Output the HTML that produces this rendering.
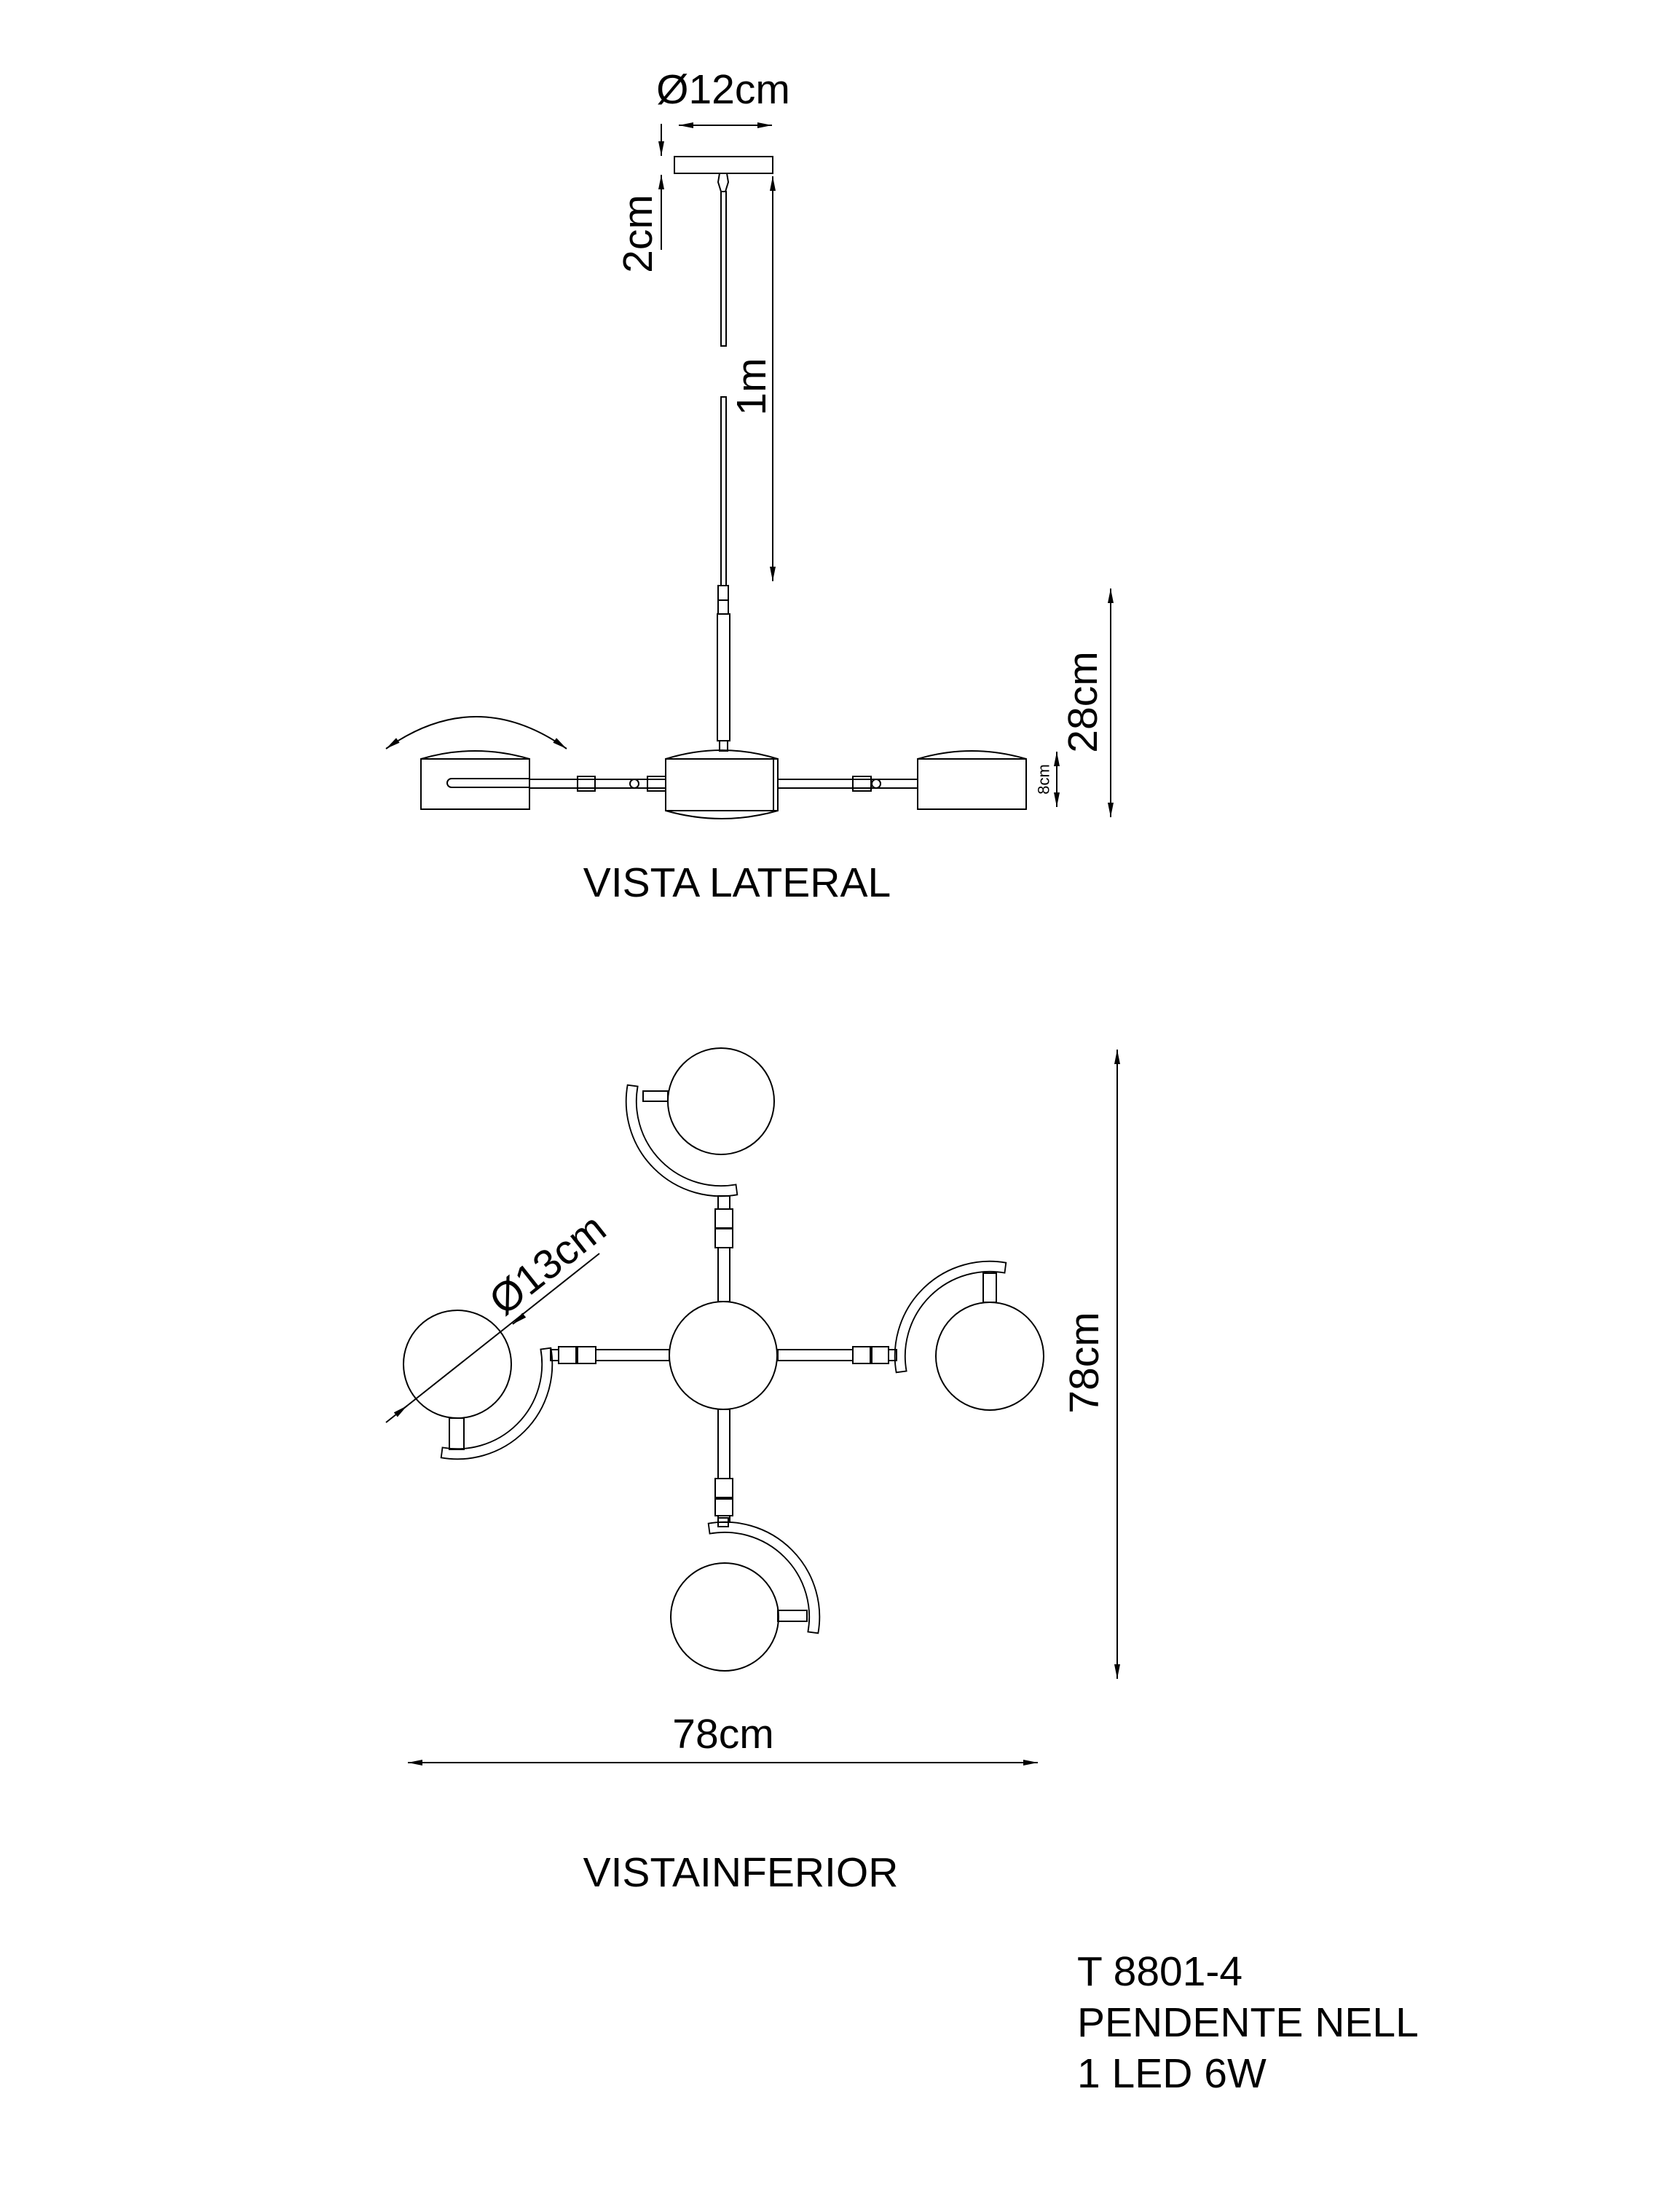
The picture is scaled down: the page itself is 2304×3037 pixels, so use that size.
<!DOCTYPE html>
<html><head><meta charset="utf-8"><style>
html,body{margin:0;padding:0;background:#fff}
svg{display:block}
text{font-family:"Liberation Sans",Arial,sans-serif;fill:#000}
</style></head><body>
<svg width="2304" height="3037" viewBox="0 0 2304 3037" xmlns="http://www.w3.org/2000/svg">
<defs>
<marker id="a" viewBox="0 0 20 8" refX="20" refY="4" markerWidth="20" markerHeight="8" markerUnits="userSpaceOnUse" orient="auto-start-reverse"><path d="M0,0 L20,4 L0,8 Z" fill="#000"/></marker>
</defs>
<g fill="none" stroke="#000" stroke-width="2">
<line x1="932" y1="172" x2="1060" y2="172" marker-start="url(#a)" marker-end="url(#a)"/>
<rect x="926" y="215" width="135" height="23"/>
<line x1="908" y1="170" x2="908" y2="214" marker-end="url(#a)"/>
<line x1="908" y1="343" x2="908" y2="240" marker-end="url(#a)"/>
<path d="M988,238 L998,238 L1000,250 L996,263 L990,263 L986,250 Z"/>
<rect x="990" y="263" width="7" height="212"/>
<rect x="990" y="545" width="7" height="259"/>
<rect x="986" y="804" width="14" height="39"/>
<line x1="986" y1="824" x2="1000" y2="824"/>
<rect x="985" y="843" width="17" height="174"/>
<rect x="988" y="1017" width="11" height="14"/>
<line x1="1061" y1="242" x2="1061" y2="798" marker-start="url(#a)" marker-end="url(#a)"/>
<rect x="914" y="1042" width="154" height="71"/>
<line x1="1062" y1="1042" x2="1062" y2="1113"/>
<path d="M914,1042 Q991,1018 1068,1042"/>
<path d="M914,1113 Q991,1135 1068,1113"/>
<rect x="578" y="1042" width="149" height="69"/>
<path d="M578,1042 Q652,1020 727,1042"/>
<path d="M727,1069 L620,1069 A6,6 0 0 0 620,1081 L727,1081"/>
<rect x="727" y="1070" width="187" height="12"/>
<rect x="793" y="1066" width="24" height="20"/>
<circle cx="871" cy="1076" r="6"/>
<rect x="889" y="1066" width="25" height="20"/>
<rect x="1068" y="1070" width="192" height="12"/>
<rect x="1171" y="1066" width="25" height="20"/>
<circle cx="1203" cy="1076" r="6"/>
<rect x="1260" y="1042" width="149" height="69"/>
<path d="M1260,1042 Q1334,1020 1409,1042"/>
<path d="M530,1028 Q654,940 778,1028" marker-start="url(#a)" marker-end="url(#a)"/>
<line x1="1451" y1="1032" x2="1451" y2="1108" marker-start="url(#a)" marker-end="url(#a)"/>
<line x1="1525" y1="808" x2="1525" y2="1122" marker-start="url(#a)" marker-end="url(#a)"/>

<circle cx="993" cy="1861" r="74"/>
<rect x="756" y="1853" width="163" height="15"/>
<rect x="767" y="1849" width="24" height="23" fill="#fff"/>
<rect x="793" y="1849" width="25" height="23" fill="#fff"/>
<rect x="1068" y="1853" width="163" height="15"/>
<rect x="1171" y="1849" width="24" height="23" fill="#fff"/>
<rect x="1197" y="1849" width="23" height="23" fill="#fff"/>
<rect x="986" y="1642" width="16" height="145"/>
<rect x="982" y="1660" width="24" height="26" fill="#fff"/>
<rect x="982" y="1687" width="24" height="26" fill="#fff"/>
<rect x="986" y="1935" width="16" height="155"/>
<rect x="982" y="2030" width="24" height="26" fill="#fff"/>
<rect x="982" y="2058" width="24" height="23" fill="#fff"/>
<g transform="translate(0,-5)">
<circle cx="990" cy="1517" r="73"/>
<path transform="translate(990,1517) scale(0.93) translate(-990,-1517)" d="M852,1493 A140,140 0 0 0 1014,1655 L1012,1640 A125,125 0 0 1 867,1495 Z"/>
<rect x="883" y="1503" width="34" height="14"/>
</g>
<g transform="translate(-2,-102)">
<circle cx="997" cy="2322" r="74"/>
<path transform="translate(997,2322) scale(0.93) translate(-997,-2322)" d="M973,2184 A140,140 0 0 1 1135,2346 L1120,2344 A125,125 0 0 0 975,2199 Z"/>
<rect x="988" y="2186" width="14" height="12"/>
<rect x="1070" y="2313" width="40" height="15"/>
</g>
<g transform="translate(0,-52)">
<circle cx="628" cy="1925" r="74"/>
<path transform="translate(628,1925) scale(0.93) translate(-628,-1925)" d="M766,1901 A140,140 0 0 1 604,2063 L606,2048 A125,125 0 0 0 751,1903 Z"/>
<rect x="617" y="1999" width="20" height="43"/>
<line x1="530" y1="2005" x2="823" y2="1773"/>
<line x1="545" y1="1993" x2="559" y2="1982" marker-end="url(#a)"/>
<line x1="718" y1="1859" x2="704" y2="1870" marker-end="url(#a)"/>
</g>
<g transform="translate(-2,-52)">
<circle cx="1361" cy="1914" r="74"/>
<path transform="translate(1361,1914) scale(0.93) translate(-1361,-1914)" d="M1385,1776 A140,140 0 0 0 1223,1938 L1238,1936 A125,125 0 0 1 1383,1791 Z"/>
<rect x="1352" y="1800" width="18" height="40"/>
</g>
<line x1="1534" y1="1441" x2="1534" y2="2305" marker-start="url(#a)" marker-end="url(#a)"/>
<line x1="560" y1="2420" x2="1425" y2="2420" marker-start="url(#a)" marker-end="url(#a)"/>
</g>
<g font-size="57" dominant-baseline="central">
<text x="993" y="123" text-anchor="middle">Ø12cm</text>
<text transform="translate(876,321) rotate(-90)" text-anchor="middle">2cm</text>
<text transform="translate(1032,531) rotate(-90)" text-anchor="middle">1m</text>
<text transform="translate(1487,964) rotate(-90)" text-anchor="middle">28cm</text>
<text transform="translate(1433,1070) rotate(-90)" text-anchor="middle" font-size="22">8cm</text>
<text x="1012" y="1212" text-anchor="middle">VISTA LATERAL</text>
<text transform="translate(752,1736) rotate(-38.4)" text-anchor="middle">Ø13cm</text>
<text transform="translate(1489,1871) rotate(-90)" text-anchor="middle">78cm</text>
<text x="993" y="2381" text-anchor="middle">78cm</text>
<text x="1017" y="2571" text-anchor="middle">VISTAINFERIOR</text>
<text x="1479" y="2707">T 8801-4</text>
<text x="1479" y="2777">PENDENTE NELL</text>
<text x="1479" y="2847">1 LED 6W</text>
</g>
</svg>
</body></html>
